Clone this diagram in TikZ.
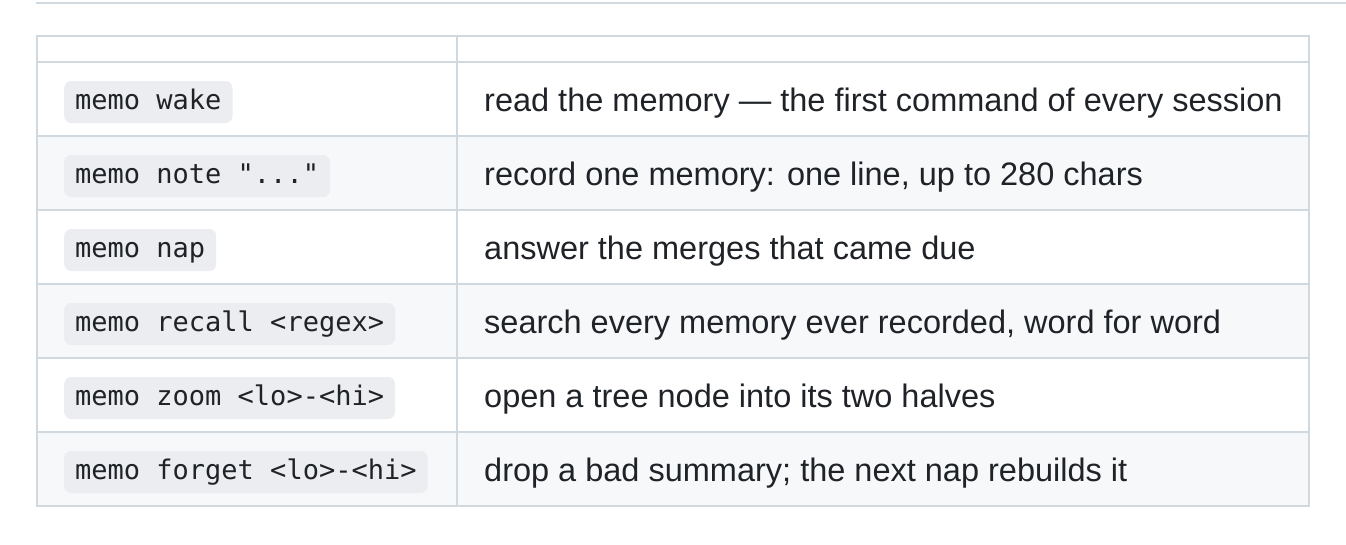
\documentclass[tikz,border=0pt]{standalone}
\usepackage{fontspec}
\setmainfont{Liberation Sans}
\newfontfamily\codefont{DejaVu Sans Mono}
\definecolor{bord}{HTML}{D1D9E0}
\definecolor{alt}{HTML}{F6F8FA}
\definecolor{pill}{HTML}{EBEDF0}
\definecolor{txt}{HTML}{1F2328}
\begin{document}
\begin{tikzpicture}[x=1pt,y=-1pt,
  cmd/.style={anchor=west,fill=pill,rounded corners=7,inner xsep=11,inner ysep=0,text height=20,text depth=6,minimum height=42,text=txt,font=\codefont\fontsize{27}{32}\selectfont},
  desc/.style={anchor=base west,inner sep=0,text=txt,font=\fontsize{32.5}{38}\selectfont},
  grid/.style={draw=bord,line width=2}]
\useasboundingbox (0,0) rectangle (1346,544);
\draw[bord,line width=2] (36,3) -- (1346,3);
\foreach \t in {136,284,432}{\fill[alt] (37,\t) rectangle (1309,\t+74);}
\foreach \y in {62,136,210,284,358,432}{\draw[grid] (37,\y) -- (1309,\y);}
\draw[grid] (37,36) rectangle (1309,506);
\draw[grid] (457,36) -- (457,506);
\node[cmd] (c1) at (64,102) {memo wake};
\node[cmd] (c2) at (64,176) {memo note "..."};
\node[cmd] (c3) at (64,250) {memo nap};
\node[cmd] (c4) at (64,324) {memo recall <regex>};
\node[cmd] (c5) at (64,398) {memo zoom <lo>-<hi>};
\node[cmd] (c6) at (64,472) {memo forget <lo>-<hi>};
\node[desc] (d1) at (484,111) {read the memory — the first command of every session};
\node[desc] (d2) at (484,185) {record one memory: one line, up to 280 chars};
\node[desc] (d3) at (484,259) {answer the merges that came due};
\node[desc] (d4) at (484,333) {search every memory ever recorded, word for word};
\node[desc] (d5) at (484,407) {open a tree node into its two halves};
\node[desc] (d6) at (484,481) {drop a bad summary; the next nap rebuilds it};
\end{tikzpicture}
\end{document}
